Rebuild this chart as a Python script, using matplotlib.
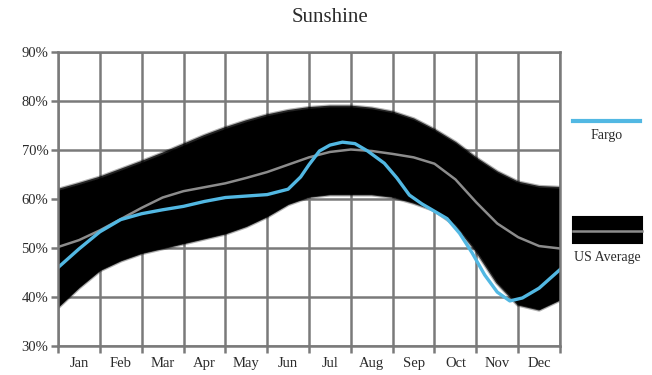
import numpy as np
import matplotlib
matplotlib.use('Agg')
import matplotlib.pyplot as plt
from matplotlib.lines import Line2D
from matplotlib.patches import Rectangle

plt.rcParams['font.family'] = ['Liberation Serif', 'DejaVu Serif']

MONTHS = ['Jan', 'Feb', 'Mar', 'Apr', 'May', 'Jun',
          'Jul', 'Aug', 'Sep', 'Oct', 'Nov', 'Dec']
Y_TICKS = [30, 40, 50, 60, 70, 80, 90]

# US average band (month units, 0 = start of Jan, 12 = end of Dec)
band_x = [0, 0.5, 1, 1.5, 2, 2.5, 3, 3.5, 4, 4.5, 5, 5.5, 6, 6.5, 7,
          7.5, 8, 8.5, 9, 9.5, 10, 10.5, 11, 11.5, 12]
band_hi = [61.8, 63.0, 64.3, 65.9, 67.5, 69.2, 71.0, 72.8, 74.4, 75.8, 77.0,
           77.9, 78.5, 78.8, 78.8, 78.4, 77.6, 76.2, 74.0, 71.4, 68.2, 65.4,
           63.3, 62.4, 62.2]
band_lo = [38.0, 42.0, 45.5, 47.5, 49.0, 50.0, 51.0, 52.0, 53.0, 54.5, 56.5,
           59.0, 60.5, 61.0, 61.0, 61.0, 60.5, 59.3, 57.8, 54.8, 49.5, 43.0,
           38.5, 37.5, 39.5]
us_avg = [50.2, 51.6, 53.6, 55.9, 58.2, 60.3, 61.6, 62.4, 63.2, 64.3, 65.5,
          67.0, 68.5, 69.6, 70.1, 69.8, 69.2, 68.5, 67.2, 64.0, 59.3, 55.0,
          52.2, 50.4, 49.9]

# Fargo
fargo_x = [0, 0.5, 1, 1.5, 2, 2.5, 3, 3.5, 4, 4.5, 5, 5.5, 5.8, 6.0, 6.25,
           6.5, 6.8, 7.1, 7.4, 7.8, 8.1, 8.4, 8.7, 9.0, 9.3, 9.6, 9.9, 10.2,
           10.5, 10.8, 11.1, 11.5, 12]
fargo_y = [46.0, 49.8, 53.3, 55.8, 57.0, 57.8, 58.5, 59.5, 60.3, 60.6, 60.9,
           62.0, 64.5, 67.0, 69.8, 71.0, 71.6, 71.3, 69.8, 67.3, 64.3, 60.8,
           59.0, 57.5, 56.0, 53.0, 49.0, 44.5, 41.0, 39.2, 39.8, 41.8, 45.6]

GRID = '#7a7a7a'
TXT = '#2b2b2b'
BLUE = '#52b8e3'

fig = plt.figure(figsize=(6.52, 3.75), dpi=100)
ax = fig.add_axes([58/652, 1 - 346/375, 502/652, 294/375])

# band with slightly soft edges
ax.fill_between(band_x, band_lo, band_hi, color='black', lw=0, zorder=2)
for lw, a in [(3.5, 0.3), (1.8, 0.8)]:
    ax.plot(band_x, band_hi, color='black', lw=lw, alpha=a, zorder=2,
            solid_capstyle='butt')
    ax.plot(band_x, band_lo, color='black', lw=lw, alpha=a, zorder=2,
            solid_capstyle='butt')

ax.plot(band_x, us_avg, color='#8c8c8c', lw=1.8, zorder=3)
ax.plot(fargo_x, fargo_y, color=BLUE, lw=2.4, zorder=4)

ax.set_xlim(0, 12)
ax.set_ylim(30, 90)
ax.set_xticks(range(13))
ax.set_xticklabels([])
ax.set_xticks(np.arange(0.5, 12, 1), minor=True)
ax.set_xticklabels(MONTHS, minor=True)
ax.set_yticks(Y_TICKS)
ax.set_yticklabels([f'{v}%' for v in Y_TICKS])

ax.tick_params(axis='both', which='major', length=5, width=1.8, color=GRID,
               labelsize=10.5, labelcolor=TXT)
ax.tick_params(axis='x', which='minor', length=0, labelsize=10.5,
               labelcolor=TXT, pad=8)
ax.tick_params(axis='y', pad=2)
ax.grid(True, which='major', color=GRID, lw=1.8, zorder=1)
ax.set_axisbelow(True)
for s in ax.spines.values():
    s.set_color(GRID)
    s.set_linewidth(1.8)
    s.set_zorder(5)

fig.text(0.506, 0.952, 'Sunshine', ha='center', va='center', fontsize=15,
         color=TXT)

# legend drawn on the right
fig.add_artist(Line2D([573/652, 640/652], [1 - 121/375, 1 - 121/375],
                      color=BLUE, lw=3, transform=fig.transFigure))
fig.text(607/652, 1 - 136/375, 'Fargo', ha='center', va='center',
         fontsize=10, color=TXT)
fig.add_artist(Rectangle((573/652, 1 - 243/375), 69/652, 26/375,
                         facecolor='black', edgecolor='black', lw=1.5,
                         alpha=1, transform=fig.transFigure))
fig.add_artist(Line2D([573/652, 642/652], [1 - 231/375, 1 - 231/375],
                      color='#8c8c8c', lw=1.8, transform=fig.transFigure))
fig.text(607/652, 1 - 257/375, 'US Average', ha='center', va='center',
         fontsize=10, color=TXT)

fig.savefig('out.png', dpi=100)
